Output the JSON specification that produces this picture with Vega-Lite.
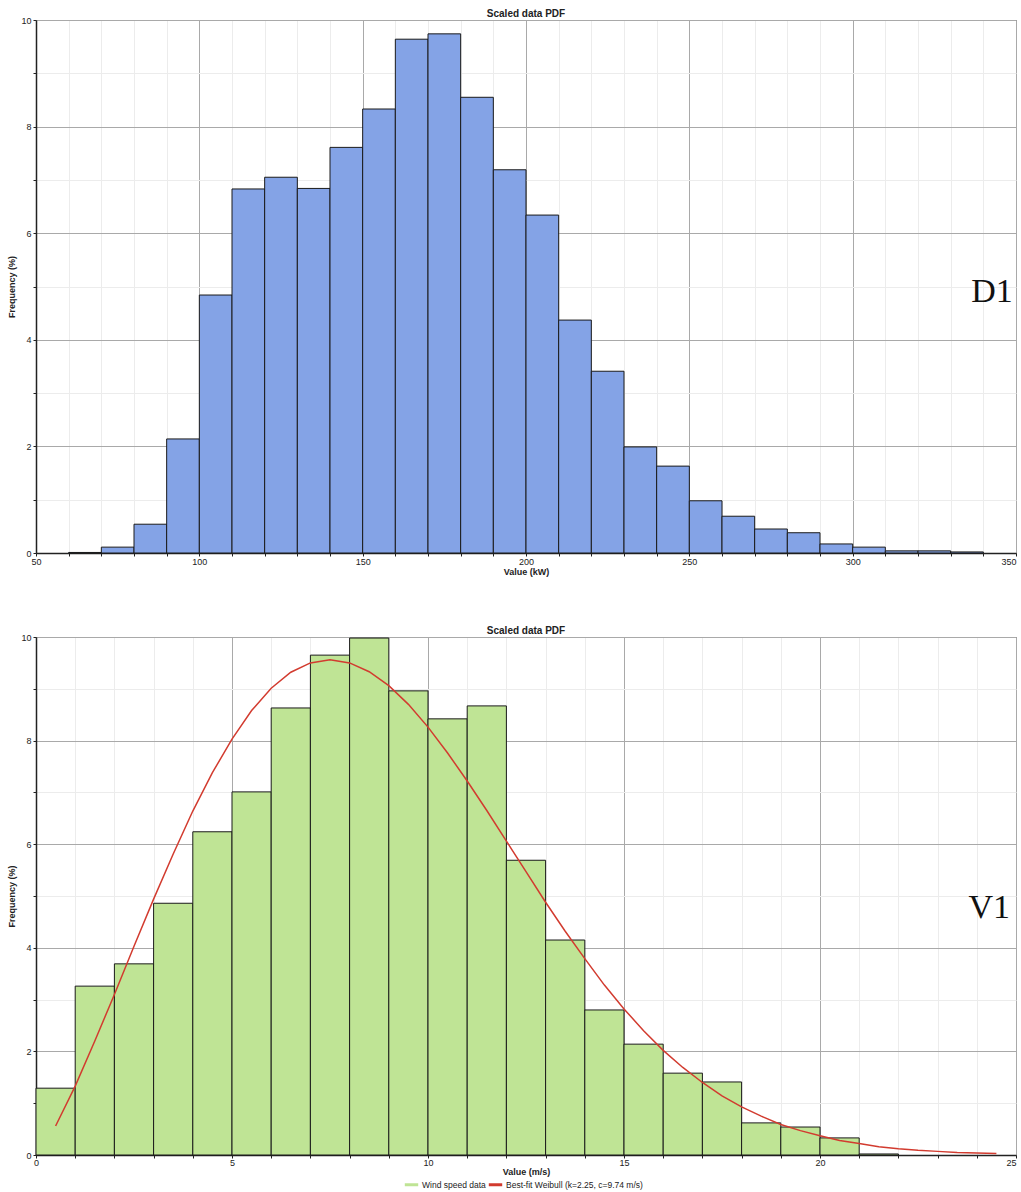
{
  "$schema": "https://vega.github.io/schema/vega-lite/v6.json",
  "padding": {"left": 7, "top": 8, "right": 5, "bottom": 0},
  "spacing": 84,
  "bounds": "flush",
  "config": {
    "font": "Liberation Sans",
    "view": {"stroke": "#555"},
    "axis": {
      "labelFontSize": 9, "titleFontSize": 9, "titleFontWeight": "bold",
      "domainColor": "#222", "domainWidth": 1.5, "tickColor": "#222", "tickSize": 3,
      "labelColor": "#222", "titleColor": "#222", "labelPadding": 2, "labelFlush": false,
      "labelOverlap": false
    },
    "title": {"fontSize": 10, "fontWeight": "bold", "offset": -3, "color": "#222"}
  },
  "datasets": {
    "kw": [
      {"lo": 60, "hi": 70, "freq": 0.01},
      {"lo": 70, "hi": 80, "freq": 0.11},
      {"lo": 80, "hi": 90, "freq": 0.54},
      {"lo": 90, "hi": 100, "freq": 2.14},
      {"lo": 100, "hi": 110, "freq": 4.84},
      {"lo": 110, "hi": 120, "freq": 6.83},
      {"lo": 120, "hi": 130, "freq": 7.05},
      {"lo": 130, "hi": 140, "freq": 6.84},
      {"lo": 140, "hi": 150, "freq": 7.61},
      {"lo": 150, "hi": 160, "freq": 8.33},
      {"lo": 160, "hi": 170, "freq": 9.64},
      {"lo": 170, "hi": 180, "freq": 9.74},
      {"lo": 180, "hi": 190, "freq": 8.55},
      {"lo": 190, "hi": 200, "freq": 7.19},
      {"lo": 200, "hi": 210, "freq": 6.34},
      {"lo": 210, "hi": 220, "freq": 4.37},
      {"lo": 220, "hi": 230, "freq": 3.41},
      {"lo": 230, "hi": 240, "freq": 1.99},
      {"lo": 240, "hi": 250, "freq": 1.63},
      {"lo": 250, "hi": 260, "freq": 0.98},
      {"lo": 260, "hi": 270, "freq": 0.69},
      {"lo": 270, "hi": 280, "freq": 0.45},
      {"lo": 280, "hi": 290, "freq": 0.38},
      {"lo": 290, "hi": 300, "freq": 0.17},
      {"lo": 300, "hi": 310, "freq": 0.11},
      {"lo": 310, "hi": 320, "freq": 0.04},
      {"lo": 320, "hi": 330, "freq": 0.04},
      {"lo": 330, "hi": 340, "freq": 0.02}
    ],
    "ws": [
      {"lo": 0, "hi": 1, "freq": 1.29, "series": "Wind speed data"},
      {"lo": 1, "hi": 2, "freq": 3.26, "series": "Wind speed data"},
      {"lo": 2, "hi": 3, "freq": 3.69, "series": "Wind speed data"},
      {"lo": 3, "hi": 4, "freq": 4.86, "series": "Wind speed data"},
      {"lo": 4, "hi": 5, "freq": 6.24, "series": "Wind speed data"},
      {"lo": 5, "hi": 6, "freq": 7.01, "series": "Wind speed data"},
      {"lo": 6, "hi": 7, "freq": 8.63, "series": "Wind speed data"},
      {"lo": 7, "hi": 8, "freq": 9.65, "series": "Wind speed data"},
      {"lo": 8, "hi": 9, "freq": 9.98, "series": "Wind speed data"},
      {"lo": 9, "hi": 10, "freq": 8.96, "series": "Wind speed data"},
      {"lo": 10, "hi": 11, "freq": 8.42, "series": "Wind speed data"},
      {"lo": 11, "hi": 12, "freq": 8.67, "series": "Wind speed data"},
      {"lo": 12, "hi": 13, "freq": 5.69, "series": "Wind speed data"},
      {"lo": 13, "hi": 14, "freq": 4.15, "series": "Wind speed data"},
      {"lo": 14, "hi": 15, "freq": 2.80, "series": "Wind speed data"},
      {"lo": 15, "hi": 16, "freq": 2.14, "series": "Wind speed data"},
      {"lo": 16, "hi": 17, "freq": 1.58, "series": "Wind speed data"},
      {"lo": 17, "hi": 18, "freq": 1.41, "series": "Wind speed data"},
      {"lo": 18, "hi": 19, "freq": 0.62, "series": "Wind speed data"},
      {"lo": 19, "hi": 20, "freq": 0.54, "series": "Wind speed data"},
      {"lo": 20, "hi": 21, "freq": 0.33, "series": "Wind speed data"},
      {"lo": 21, "hi": 22, "freq": 0.02, "series": "Wind speed data"}
    ],
    "weibull": [
      {"v": 0.5, "pdf": 0.56}, {"v": 1.0, "pdf": 1.33}, {"v": 1.5, "pdf": 2.20}, {"v": 2.0, "pdf": 3.10},
      {"v": 2.5, "pdf": 4.03}, {"v": 3.0, "pdf": 4.94}, {"v": 3.5, "pdf": 5.81}, {"v": 4.0, "pdf": 6.64},
      {"v": 4.5, "pdf": 7.38}, {"v": 5.0, "pdf": 8.03}, {"v": 5.5, "pdf": 8.58}, {"v": 6.0, "pdf": 9.01},
      {"v": 6.5, "pdf": 9.32}, {"v": 7.0, "pdf": 9.50}, {"v": 7.5, "pdf": 9.56}, {"v": 8.0, "pdf": 9.50},
      {"v": 8.5, "pdf": 9.33}, {"v": 9.0, "pdf": 9.06}, {"v": 9.5, "pdf": 8.70}, {"v": 10.0, "pdf": 8.26},
      {"v": 10.5, "pdf": 7.76}, {"v": 11.0, "pdf": 7.22}, {"v": 11.5, "pdf": 6.65}, {"v": 12.0, "pdf": 6.06},
      {"v": 12.5, "pdf": 5.47}, {"v": 13.0, "pdf": 4.88}, {"v": 13.5, "pdf": 4.32}, {"v": 14.0, "pdf": 3.79},
      {"v": 14.5, "pdf": 3.28}, {"v": 15.0, "pdf": 2.82}, {"v": 15.5, "pdf": 2.40}, {"v": 16.0, "pdf": 2.02},
      {"v": 16.5, "pdf": 1.69}, {"v": 17.0, "pdf": 1.40}, {"v": 17.5, "pdf": 1.14}, {"v": 18.0, "pdf": 0.93},
      {"v": 18.5, "pdf": 0.75}, {"v": 19.0, "pdf": 0.59}, {"v": 19.5, "pdf": 0.47}, {"v": 20.0, "pdf": 0.37},
      {"v": 20.5, "pdf": 0.28}, {"v": 21.0, "pdf": 0.22}, {"v": 21.5, "pdf": 0.16}, {"v": 22.0, "pdf": 0.12},
      {"v": 22.5, "pdf": 0.09}, {"v": 23.0, "pdf": 0.07}, {"v": 23.5, "pdf": 0.05}, {"v": 24.0, "pdf": 0.04},
      {"v": 24.5, "pdf": 0.03}
    ]
  },
  "vconcat": [
    {
      "width": 980,
      "height": 533,
      "title": "Scaled data PDF",
      "layer": [
        {
          "data": {"name": "kw"},
          "mark": {"type": "bar", "fill": "#84a3e6", "stroke": "#1a1a1a", "strokeWidth": 1},
          "encoding": {
            "x": {
              "field": "lo", "type": "quantitative", "title": "Value (kW)",
              "scale": {"domain": [50, 350], "nice": false, "zero": false},
              "axis": {
                "values": [50,60,70,80,90,100,110,120,130,140,150,160,170,180,190,200,210,220,230,240,250,260,270,280,290,300,310,320,330,340,350],
                "tickCount": 100,
                "format": "d",
                "labelExpr": "datum.value % 50 === 0 ? datum.label : ''",
                "labelOverlap": false,
                "labelAlign": {"condition": {"test": "datum.value === 350", "value": "right"}, "value": "center"},
                "gridColor": {"condition": {"test": "datum.value % 50 === 0", "value": "#a9a9a9"}, "value": "#ececec"},
                "labelPadding": 1,
                "titlePadding": 1
              }
            },
            "x2": {"field": "hi"},
            "y": {
              "field": "freq", "type": "quantitative", "title": "Frequency (%)",
              "scale": {"domain": [0, 10], "nice": false},
              "axis": {
                "values": [0,1,2,3,4,5,6,7,8,9,10],
                "tickCount": 100,
                "format": "d",
                "labelExpr": "datum.value % 2 === 0 ? datum.label : ''",
                "labelOverlap": false,
                "gridColor": {"condition": {"test": "datum.value % 2 === 0", "value": "#a9a9a9"}, "value": "#ececec"},
                "titlePadding": 4
              }
            },
            "y2": {"datum": 0}
          }
        },
        {
          "data": {"values": [{"label": "D1"}]},
          "mark": {"type": "text", "font": "Liberation Serif", "fontSize": 34, "align": "right", "baseline": "middle", "color": "#111"},
          "encoding": {
            "x": {"datum": 349, "type": "quantitative"},
            "y": {"datum": 4.9, "type": "quantitative"},
            "text": {"field": "label"}
          }
        }
      ]
    },
    {
      "width": 980,
      "height": 518,
      "title": "Scaled data PDF",
      "layer": [
        {
          "data": {"name": "ws"},
          "mark": {"type": "bar", "stroke": "#1a1a1a", "strokeWidth": 1},
          "encoding": {
            "x": {
              "field": "lo", "type": "quantitative", "title": "Value (m/s)",
              "scale": {"domain": [0, 25], "nice": false},
              "axis": {
                "values": [0,1,2,3,4,5,6,7,8,9,10,11,12,13,14,15,16,17,18,19,20,21,22,23,24,25],
                "tickCount": 100,
                "format": "d",
                "labelExpr": "datum.value % 5 === 0 ? datum.label : ''",
                "labelOverlap": false,
                "labelAlign": {"condition": {"test": "datum.value === 25", "value": "right"}, "value": "center"},
                "gridColor": {"condition": {"test": "datum.value % 5 === 0", "value": "#a9a9a9"}, "value": "#ececec"},
                "labelPadding": 0,
                "titlePadding": 0
              }
            },
            "x2": {"field": "hi"},
            "y": {
              "field": "freq", "type": "quantitative", "title": "Frequency (%)",
              "scale": {"domain": [0, 10], "nice": false},
              "axis": {
                "values": [0,1,2,3,4,5,6,7,8,9,10],
                "tickCount": 100,
                "format": "d",
                "labelExpr": "datum.value % 2 === 0 ? datum.label : ''",
                "labelOverlap": false,
                "gridColor": {"condition": {"test": "datum.value % 2 === 0", "value": "#a9a9a9"}, "value": "#ececec"},
                "titlePadding": 4
              }
            },
            "y2": {"datum": 0},
            "color": {
              "field": "series", "type": "nominal",
              "scale": {"domain": ["Wind speed data", "Best-fit Weibull (k=2.25, c=9.74 m/s)"], "range": ["#bfe495", "#d23b2f"]},
              "legend": {
                "title": null, "orient": "none", "legendX": 367, "legendY": 1156,
                "direction": "horizontal", "symbolType": "stroke", "symbolStrokeWidth": 3,
                "symbolSize": 180, "labelFontSize": 8.5, "labelColor": "#222", "columnPadding": -4, "labelOffset": 2
              }
            }
          }
        },
        {
          "data": {"name": "weibull"},
          "mark": {"type": "line", "strokeWidth": 1.5},
          "encoding": {
            "x": {"field": "v", "type": "quantitative"},
            "y": {"field": "pdf", "type": "quantitative"},
            "color": {"datum": "Best-fit Weibull (k=2.25, c=9.74 m/s)"}
          }
        },
        {
          "data": {"values": [{"label": "V1"}]},
          "mark": {"type": "text", "font": "Liberation Serif", "fontSize": 34, "align": "right", "baseline": "middle", "color": "#111"},
          "encoding": {
            "x": {"datum": 24.85, "type": "quantitative"},
            "y": {"datum": 4.77, "type": "quantitative"},
            "text": {"field": "label"}
          }
        }
      ]
    }
  ]
}
